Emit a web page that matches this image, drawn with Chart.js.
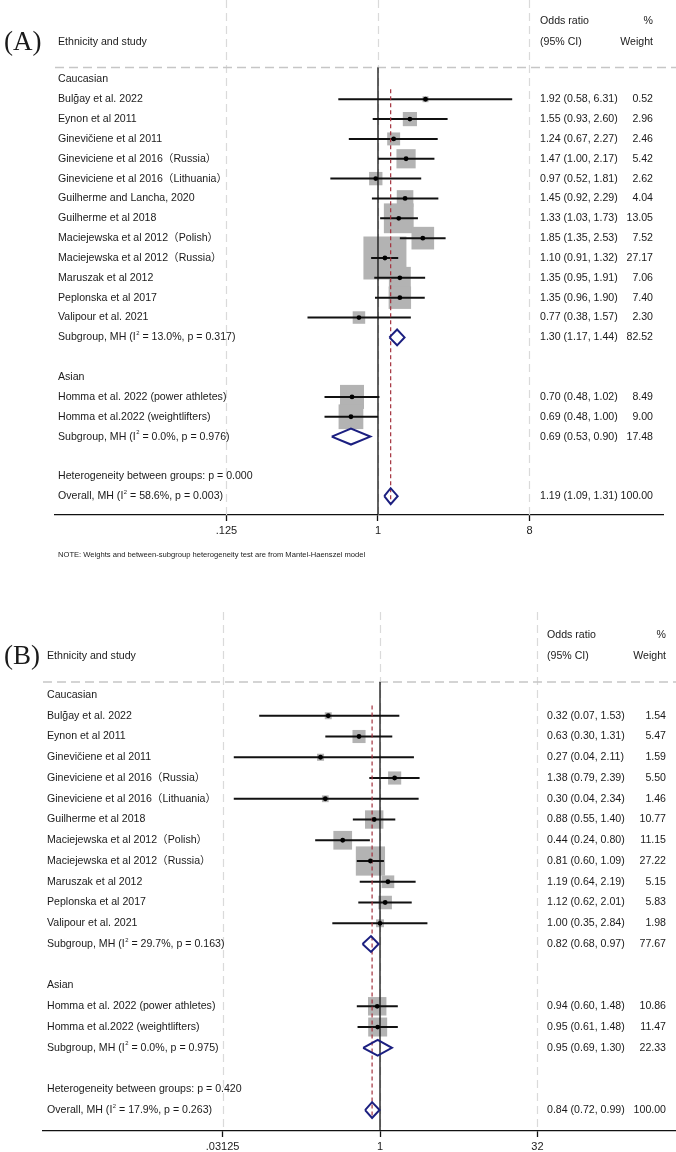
<!DOCTYPE html>
<html>
<head>
<meta charset="utf-8">
<script src="https://cdn.jsdelivr.net/npm/chart.js@4.4.1/dist/chart.umd.min.js"></script>
<style>
  html, body { margin: 0; padding: 0; background: #fff; }
  #wrap { position: relative; width: 676px; height: 1152px; overflow: hidden; }
  canvas { position: absolute; left: 0; }
  #chartA { top: 0; }
  #chartB { top: 596px; }
</style>
</head>
<body>
<div id="wrap">
  <canvas id="chartA" width="676" height="596"></canvas>
  <canvas id="chartB" width="676" height="556"></canvas>
</div>
<script>
// ========== PANEL A DATA ==========
const studiesA = ["Bulğay et al. 2022", "Eynon et al 2011", "Ginevičiene et al 2011",
  "Gineviciene et al 2016（Russia）", "Gineviciene et al 2016（Lithuania）",
  "Guilherme and Lancha, 2020", "Guilherme et al 2018", "Maciejewska et al 2012（Polish）",
  "Maciejewska et al 2012（Russia）", "Maruszak et al 2012", "Peplonska et al 2017",
  "Valipour et al. 2021", "Homma et al. 2022 (power athletes)", "Homma et al.2022 (weightlifters)"];
const rowsA = [1, 2, 3, 4, 5, 6, 7, 8, 9, 10, 11, 12, 16, 17];
const orA = [1.92, 1.55, 1.24, 1.47, 0.97, 1.45, 1.33, 1.85, 1.10, 1.35, 1.35, 0.77, 0.70, 0.69];
const loA = [0.58, 0.93, 0.67, 1.00, 0.52, 0.92, 1.03, 1.35, 0.91, 0.95, 0.96, 0.38, 0.48, 0.48];
const hiA = [6.31, 2.60, 2.27, 2.17, 1.81, 2.29, 1.73, 2.53, 1.32, 1.91, 1.90, 1.57, 1.02, 1.00];
const wA = [0.52, 2.96, 2.46, 5.42, 2.62, 4.04, 13.05, 7.52, 27.17, 7.06, 7.40, 2.30, 8.49, 9.00];
const poolNamesA = ["Subgroup, MH (I² = 13.0%, p = 0.317)", "Subgroup, MH (I² = 0.0%, p = 0.976)",
  "Overall, MH (I² = 58.6%, p = 0.003)"];
const poolRowsA = [13, 18, 21];
const poolOrA = [1.30, 0.69, 1.19];
const poolLoA = [1.17, 0.53, 1.09];
const poolHiA = [1.44, 0.90, 1.31];
const poolWA = [82.52, 17.48, 100.00];
const headsA = ["Caucasian", "Asian", "Heterogeneity between groups: p = 0.000"];
const headRowsA = [0, 15, 20];
const ticksA = [0.125, 1, 8];
const tickLabelsA = [".125", "1", "8"];

// ========== PANEL B DATA ==========
const studiesB = ["Bulğay et al. 2022", "Eynon et al 2011", "Ginevičiene et al 2011",
  "Gineviciene et al 2016（Russia）", "Gineviciene et al 2016（Lithuania）",
  "Guilherme et al 2018", "Maciejewska et al 2012（Polish）", "Maciejewska et al 2012（Russia）",
  "Maruszak et al 2012", "Peplonska et al 2017", "Valipour et al. 2021",
  "Homma et al. 2022 (power athletes)", "Homma et al.2022 (weightlifters)"];
const rowsB = [1, 2, 3, 4, 5, 6, 7, 8, 9, 10, 11, 15, 16];
const orB = [0.32, 0.63, 0.27, 1.38, 0.30, 0.88, 0.44, 0.81, 1.19, 1.12, 1.00, 0.94, 0.95];
const loB = [0.07, 0.30, 0.04, 0.79, 0.04, 0.55, 0.24, 0.60, 0.64, 0.62, 0.35, 0.60, 0.61];
const hiB = [1.53, 1.31, 2.11, 2.39, 2.34, 1.40, 0.80, 1.09, 2.19, 2.01, 2.84, 1.48, 1.48];
const wB = [1.54, 5.47, 1.59, 5.50, 1.46, 10.77, 11.15, 27.22, 5.15, 5.83, 1.98, 10.86, 11.47];
const poolNamesB = ["Subgroup, MH (I² = 29.7%, p = 0.163)", "Subgroup, MH (I² = 0.0%, p = 0.975)",
  "Overall, MH (I² = 17.9%, p = 0.263)"];
const poolRowsB = [12, 17, 20];
const poolOrB = [0.82, 0.95, 0.84];
const poolLoB = [0.68, 0.69, 0.72];
const poolHiB = [0.97, 1.30, 0.99];
const poolWB = [77.67, 22.33, 100.00];
const headsB = ["Caucasian", "Asian", "Heterogeneity between groups: p = 0.420"];
const headRowsB = [0, 14, 19];
const ticksB = [0.03125, 1, 32];
const tickLabelsB = [".03125", "1", "32"];

const FONT = "'Liberation Sans', Arial, 'Noto Sans CJK SC', sans-serif";
Chart.defaults.font.family = FONT;

// text with a small raised "2" for I²
function drawLabel(ctx, text, x, y, size) {
  const parts = text.split("²");
  ctx.font = size + "px " + FONT;
  ctx.fillText(parts[0], x, y);
  if (parts.length < 2) return;
  let cx = x + ctx.measureText(parts[0]).width;
  ctx.font = (size * 0.55) + "px " + FONT;
  ctx.fillText("2", cx + 0.5, y - size * 0.38);
  cx += ctx.measureText("2").width + 0.5;
  ctx.font = size + "px " + FONT;
  ctx.fillText(parts[1], cx, y);
}

function buildPanel(canvasId, p) {
  const datasets = [];
  // weight boxes
  datasets.push({
    data: p.rows.map((r, i) => ({ x: p.or[i], y: r })),
    pointStyle: "rect",
    pointRadius: p.w.map(w => Math.sqrt(w) * p.boxK / Math.SQRT2),
    backgroundColor: "#b3b3b3", borderWidth: 0, order: 9
  });
  // confidence intervals
  p.rows.forEach((r, i) => {
    datasets.push({
      data: [{ x: p.lo[i], y: r }, { x: p.hi[i], y: r }],
      showLine: true, borderColor: "#111", borderWidth: 2, pointRadius: 0, order: 5
    });
  });
  // null line at OR = 1
  datasets.push({
    data: [{ x: 1, y: p.hRow }, { x: 1, y: p.yMax }],
    showLine: true, borderColor: "#111", borderWidth: 1.3, pointRadius: 0, order: 4
  });
  // overall estimate line
  const last = p.poolRows.length - 1;
  datasets.push({
    data: [{ x: p.poolOr[last], y: 0.5 }, { x: p.poolOr[last], y: p.poolRows[last] + p.dh }],
    showLine: true, borderColor: "#a3313d", borderDash: [4, 3], borderWidth: 1.2,
    pointRadius: 0, order: 3
  });
  // pooled diamonds
  p.poolRows.forEach((r, i) => {
    datasets.push({
      data: [{ x: p.poolLo[i], y: r }, { x: p.poolOr[i], y: r - p.dh },
             { x: p.poolHi[i], y: r }, { x: p.poolOr[i], y: r + p.dh },
             { x: p.poolLo[i], y: r }],
      showLine: true, borderColor: "#1b1f80", borderWidth: 2, pointRadius: 0,
      borderJoinStyle: "miter", order: 2
    });
  });
  // point estimates
  datasets.push({
    data: p.rows.map((r, i) => ({ x: p.or[i], y: r })),
    pointStyle: "circle", pointRadius: 2.4, backgroundColor: "#000", borderWidth: 0, order: 1
  });

  const framePlugin = {
    id: "frame" + canvasId,
    beforeDatasetsDraw(chart) {
      const ctx = chart.ctx, xs = chart.scales.x, ys = chart.scales.y, a = chart.chartArea;
      ctx.save();
      ctx.strokeStyle = "#dadada";
      ctx.lineWidth = 1.2;
      ctx.setLineDash([8, 5]);
      p.ticks.forEach(v => {
        const px = Math.round(xs.getPixelForValue(v)) + 0.5;
        ctx.beginPath(); ctx.moveTo(px, a.top); ctx.lineTo(px, a.bottom); ctx.stroke();
      });
      ctx.strokeStyle = "#c6c6c6";
      ctx.lineWidth = 1.5;
      ctx.setLineDash([9, 5]);
      const hy = ys.getPixelForValue(p.hRow);
      ctx.beginPath(); ctx.moveTo(a.left, hy); ctx.lineTo(chart.width, hy); ctx.stroke();
      ctx.restore();
    },
    afterDraw(chart) {
      const ctx = chart.ctx, ys = chart.scales.y;
      const fs = p.fontSize;
      ctx.save();
      ctx.fillStyle = "#1a1a1a";
      ctx.textBaseline = "middle";
      // header
      ctx.textAlign = "left";
      ctx.font = "27px 'Liberation Serif', 'Times New Roman', serif";
      ctx.fillText(p.tag, 4, ys.getPixelForValue(p.ciRow) + 1);
      drawLabel(ctx, "Ethnicity and study", p.labelX, ys.getPixelForValue(p.ciRow), fs);
      drawLabel(ctx, "Odds ratio", p.ciX, ys.getPixelForValue(p.orRow), fs);
      drawLabel(ctx, "(95% CI)", p.ciX, ys.getPixelForValue(p.ciRow), fs);
      ctx.textAlign = "right";
      ctx.font = fs + "px " + FONT;
      ctx.fillText("%", p.wX, ys.getPixelForValue(p.orRow));
      ctx.fillText("Weight", p.wX, ys.getPixelForValue(p.ciRow));
      ctx.textAlign = "left";
      // subgroup headings
      p.heads.forEach((h, i) => drawLabel(ctx, h, p.labelX, ys.getPixelForValue(p.headRows[i]), fs));
      // studies
      p.names.forEach((n, i) => {
        const y = ys.getPixelForValue(p.rows[i]);
        drawLabel(ctx, n, p.labelX, y, fs);
        ctx.textAlign = "left";
        ctx.fillText(p.or[i].toFixed(2) + " (" + p.lo[i].toFixed(2) + ", " + p.hi[i].toFixed(2) + ")", p.ciX, y);
        ctx.textAlign = "right";
        ctx.fillText(p.w[i].toFixed(2), p.wX, y);
        ctx.textAlign = "left";
      });
      // pooled rows
      p.poolNames.forEach((n, i) => {
        const y = ys.getPixelForValue(p.poolRows[i]);
        drawLabel(ctx, n, p.labelX, y, fs);
        ctx.textAlign = "left";
        ctx.fillText(p.poolOr[i].toFixed(2) + " (" + p.poolLo[i].toFixed(2) + ", " + p.poolHi[i].toFixed(2) + ")", p.ciX, y);
        ctx.textAlign = "right";
        ctx.fillText(p.poolW[i].toFixed(2), p.wX, y);
        ctx.textAlign = "left";
      });
      if (p.note) {
        ctx.font = "7.6px " + FONT;
        ctx.fillText(p.note, p.labelX, ys.getPixelForValue(p.noteRow));
      }
      ctx.restore();
    }
  };

  return new Chart(document.getElementById(canvasId), {
    type: "scatter",
    data: { datasets },
    options: {
      responsive: false, animation: false, devicePixelRatio: 1, events: [],
      layout: { autoPadding: false, padding: p.pad },
      plugins: { legend: { display: false }, tooltip: { enabled: false } },
      scales: {
        x: {
          type: "logarithmic", min: p.xMin, max: p.xMax,
          afterBuildTicks: s => { s.ticks = p.ticks.map(v => ({ value: v })); },
          afterFit: s => { s.height = p.axisH; },
          ticks: {
            autoSkip: false, maxRotation: 0, padding: 3, color: "#1a1a1a",
            font: { size: 11 }, callback: (v, i) => p.tickLabels[i]
          },
          grid: { display: true, drawOnChartArea: false, drawTicks: true, tickLength: 6, tickColor: "#111", tickWidth: 1.3 },
          border: { display: true, color: "#111", width: 1.3 }
        },
        y: { type: "linear", reverse: true, min: p.yMin, max: p.yMax, display: false }
      }
    },
    plugins: [framePlugin]
  });
}

buildPanel("chartA", {
  tag: "(A)", names: studiesA, rows: rowsA, or: orA, lo: loA, hi: hiA, w: wA,
  poolNames: poolNamesA, poolRows: poolRowsA, poolOr: poolOrA, poolLo: poolLoA, poolHi: poolHiA, poolW: poolWA,
  heads: headsA, headRows: headRowsA, ticks: ticksA, tickLabels: tickLabelsA,
  xMin: Math.pow(2, -6.396), xMax: Math.pow(2, 5.644), yMin: -4, yMax: 21.95,
  pad: { left: 55, right: 13, top: 0, bottom: 51 }, axisH: 30,
  boxK: 8.25, dh: 0.4, hRow: -0.6, orRow: -2.95, ciRow: -1.9,
  labelX: 58, ciX: 540, wX: 653, fontSize: 10.6,
  note: "NOTE: Weights and between-subgroup heterogeneity test are from Mantel-Haenszel model", noteRow: 23.95
});

buildPanel("chartB", {
  tag: "(B)", names: studiesB, rows: rowsB, or: orB, lo: loB, hi: hiB, w: wB,
  poolNames: poolNamesB, poolRows: poolRowsB, poolOr: poolOrB, poolLo: poolLoB, poolHi: poolHiB, poolW: poolWB,
  heads: headsB, headRows: headRowsB, ticks: ticksB, tickLabels: tickLabelsB,
  xMin: Math.pow(2, -10.63), xMax: Math.pow(2, 9.40), yMin: -4, yMax: 21.01,
  pad: { left: 43, right: 0, top: 16, bottom: 0 }, axisH: 21,
  boxK: 5.6, dh: 0.38, hRow: -0.63, orRow: -2.9, ciRow: -1.88,
  labelX: 47, ciX: 547, wX: 666, fontSize: 10.6
});
</script>
</body>
</html>
